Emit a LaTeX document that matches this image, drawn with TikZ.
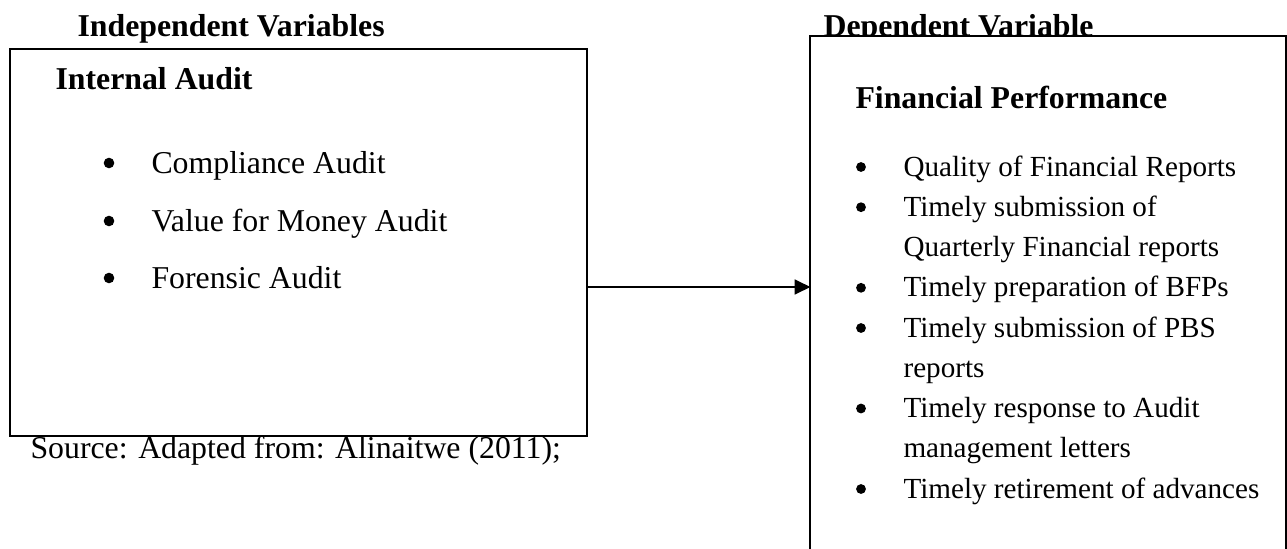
\documentclass[tikz,border=0pt]{standalone}
\usepackage{fontspec}
\setmainfont{Liberation Serif}
\usetikzlibrary{arrows.meta,fit}
\begin{document}
\begin{tikzpicture}[x=0.3774pt,y=-0.3774pt,
  head/.style={anchor=base west,inner sep=0pt,font=\fontsize{12}{14}\selectfont\bfseries},
  leftitem/.style={anchor=base west,inner sep=0pt,font=\fontsize{12}{14}\selectfont},
  rightitem/.style={anchor=base west,inner sep=0pt,font=\fontsize{11}{13}\selectfont},
  boxline/.style={line width=0.75pt,draw=black},
  connector/.style={line width=0.85pt,-{Triangle[length=6pt,width=5.6pt]}},
  bulletdot/.style={fill=black}]
\useasboundingbox (0,0) rectangle (1287,548);

% headings above boxes
\node[head] (indephead) at (77,36) {Independent Variables};
\node[head] (dephead) at (823,36.5) {Dependent Variable};

% left box
\node[boxline,fit={(10,49) (587,436)},inner sep=0pt] (indep) {};
% right box (open at the bottom edge of the picture)
\node[fill=white,fit={(811,37) (1285,548)},inner sep=0pt] (dep) {};
\draw[boxline] (dep.south west) -- (dep.north west) -- (dep.north east) -- (dep.south east);

% left box content
\node[head] (ia) at (55,89) {Internal Audit};
\node[leftitem] (l1) at (151,173) {Compliance Audit};
\node[leftitem] (l2) at (151,231) {Value for Money Audit};
\node[leftitem] (l3) at (151,288) {Forensic Audit};
\foreach \yy in {173,231,288} \fill[bulletdot] (109,\yy-10) circle (2.0pt);

% right box content
\node[head] (fp) at (855,108) {Financial Performance};
\node[rightitem] (r1) at (903,176) {Quality of Financial Reports};
\node[rightitem] (r2) at (903,216.2) {Timely submission of};
\node[rightitem] (r2b) at (903,256.5) {Quarterly Financial reports};
\node[rightitem] (r3) at (903,296.8) {Timely preparation of BFPs};
\node[rightitem] (r4) at (903,337) {Timely submission of PBS};
\node[rightitem] (r4b) at (903,377.2) {reports};
\node[rightitem] (r5) at (903,417.5) {Timely response to Audit};
\node[rightitem] (r5b) at (903,457.7) {management letters};
\node[rightitem] (r6) at (903,498) {Timely retirement of advances};
\foreach \yy in {176,216.2,296.8,337,417.5,498} \fill[bulletdot] (861,\yy-9) circle (1.85pt);

% source
\node[leftitem] (src) at (30,458) {Source: Adapted from: Alinaitwe (2011);};

% connector
\coordinate (arr) at (0,287);
\draw[connector] (indep.east |- arr) -- (dep.west |- arr);
\end{tikzpicture}
\end{document}
